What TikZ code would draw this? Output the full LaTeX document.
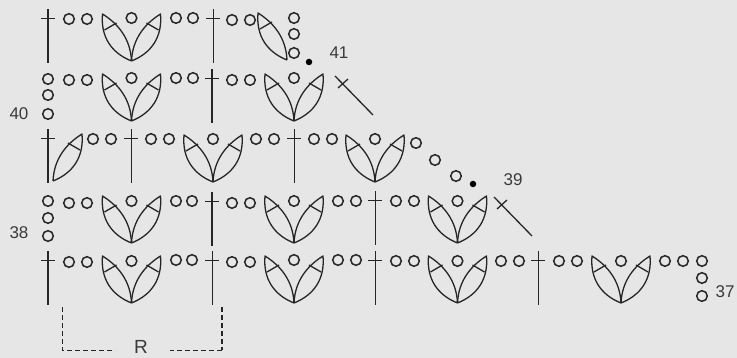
\documentclass[tikz,border=0pt]{standalone}
\usepackage{fontspec}
\setmainfont{Liberation Sans}
\definecolor{chartbg}{HTML}{E6E6E6}
\definecolor{chartink}{HTML}{262626}
\definecolor{chartnum}{HTML}{3A3A3A}

\begin{document}
\begin{tikzpicture}[
        x=1pt,
        y=-1pt,
        chainst/.style={
            circle,
            draw=chartink,
            line width=1.5pt,
            minimum size=10.6pt,
            inner sep=0pt
        },
        dotst/.style={
            circle,
            fill=black,
            minimum size=6.5pt,
            inner sep=0pt
        },
        rownum/.style={
            text=chartnum,
            font=\fontsize{17}{18}\selectfont,
            inner sep=0pt
        },
        outline/.style={draw=chartink, line width=1.3pt, line join=round},
        tallst/.style={draw=chartink, line width=2.2pt},
        slimst/.style={draw=chartink, line width=0.9pt},
        repeatline/.style={draw=chartink, dashed, dash pattern=on 5pt off 3pt},
        leaf/.pic={
            \draw[outline] (0,0) .. controls (-20,-8) and (-31,-24) .. (-29,-47)
                .. controls (-13,-37) and (-1,-22) .. (0,0);
            \draw[outline] (-27,-31) -- (-15,-38);
        },
        tulip/.pic={
            \pic {leaf};
            \pic[xscale=-1] {leaf};
        },
        stitch/.pic={
            \draw[pic actions] (0,-10) -- (0,44);
            \draw[outline, line width=1pt] (-7,0) -- (7,0);
        },
        skipmark/.pic={
            \draw[outline] (0,0) -- (38,39);
            \draw[outline] (3,12) -- (13,3);
        }
    ]
        % Background
        \fill[chartbg] (0,0) rectangle (737,358);
        \useasboundingbox (0,0) rectangle (737,358);

        % Tall stitches
        \foreach \x/\y in {48/19, 212/79, 48/139, 212/202, 48/261}
            \pic[tallst] at (\x,\y) {stitch};
        \foreach \x/\y in {213/19, 131/139, 294/139, 375/201, 212/261, 375/261, 538/261}
            \pic[slimst] at (\x,\y) {stitch};

        % Tulips
        \foreach \x/\y in {131.5/61, 131.5/121, 294/121, 213/182, 375/182,
                           131.5/243, 294/243, 457.5/243,
                           131.5/303, 294/303, 457.5/303, 621/303}
            \pic at (\x,\y) {tulip};
        \pic at (287,60) {leaf};
        \pic[xscale=-1] at (53,181) {leaf};

        % Chains
        \foreach \x/\y [count=\i] in {
                69/19, 87/19, 131.5/18, 176/18, 193/18, 232/20, 250/20, 294/18, 294/34, 294/53,
                48/79, 48/95, 48/114, 69/80, 87/80, 131.5/78, 176/78, 193/78, 232/80, 250/80, 294/78,
                93/139, 111/139, 151/139, 169/139, 213/139, 256/139, 274/139, 314/139, 332/139, 375/139,
                416/143, 435/160, 456/176,
                48/201, 48/218, 48/236, 69/203, 87/203, 131.5/201, 176/201, 192/201, 232/203, 250/203,
                294/201, 338/201, 356/201, 396/201, 414/201, 457.5/201,
                69/262, 87/262, 131.5/261, 176/260, 192/260, 232/262, 250/262, 294/260, 338/260, 356/260,
                396/261, 414/261, 457.5/261, 501/261, 519/261, 559/261, 577/261, 621/261, 665/261, 683/261,
                702/261, 702/278, 702/296}
            \node [chainst] (ch\i) at (\x,\y) {};

        % Row ends
        \node [dotst] (end41) at (309,62) {};
        \node [dotst] (end39) at (473,184) {};
        \pic at (335,76) {skipmark};
        \pic at (494,197) {skipmark};

        % Row numbers
        \node [rownum] (num41) at (339,53) {41};
        \node [rownum] (num40) at (19,114) {40};
        \node [rownum] (num39) at (513,180) {39};
        \node [rownum] (num38) at (19,233) {38};
        \node [rownum] (num37) at (725,292) {37};

        % Repeat bracket
        \node [text=chartnum, font=\fontsize{19}{20}\selectfont, inner sep=0pt] (rep) at (141,346.5) {R};
        \coordinate (repleft) at (62,307);
        \coordinate (repright) at (222,307);
        \draw [repeatline, line width=0.9pt] (repleft) |- (115,350);
        \draw [repeatline, line width=1.5pt] (repright) -- (222,350);
        \draw [repeatline, line width=0.9pt] (222,350) -- (170,350);
    \end{tikzpicture}
\end{document}
